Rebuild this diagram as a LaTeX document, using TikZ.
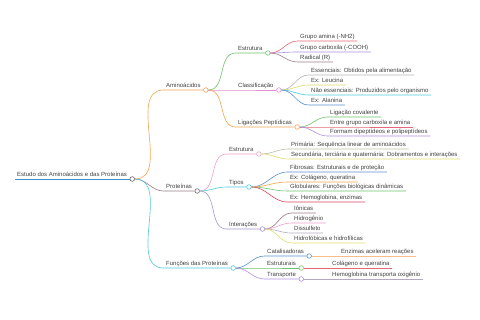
\documentclass[tikz,border=0pt]{standalone}
\usepackage{fontspec}
\setmainfont{Liberation Sans}
\usetikzlibrary{positioning}

\definecolor{cRoot}{HTML}{3F8FD2}
\definecolor{cOrange}{HTML}{F2A54F}
\definecolor{cMauve}{HTML}{9C7C86}
\definecolor{cCyan}{HTML}{4FC9D8}
\definecolor{cGreen}{HTML}{6CC26C}
\definecolor{cPink}{HTML}{E58FD0}
\definecolor{cRed}{HTML}{E5677A}
\definecolor{cPurple}{HTML}{B08FE6}
\definecolor{cGray}{HTML}{B4B4B4}
\definecolor{cLime}{HTML}{D6DA6A}
\definecolor{cBlue}{HTML}{5A93D0}
\definecolor{cRose}{HTML}{EBA2C8}
\definecolor{cLilac}{HTML}{A596CE}
\definecolor{cOlive}{HTML}{BDBDA2}
\definecolor{cYellow}{HTML}{DEDE6E}
\definecolor{cCrimson}{HTML}{DD4563}
\definecolor{cPeach}{HTML}{F7BD8A}
\definecolor{cSilver}{HTML}{B3AAC2}

\begin{document}
\begin{tikzpicture}[x=1pt, y=-1pt,
  font=\fontsize{6}{7}\selectfont,
  topic/.style={anchor=south west, inner xsep=2.5pt, inner ysep=0.5pt,
    text height=4.5pt, text depth=1.3pt, text=black!75},
  knob/.style={circle, draw, fill=white, inner sep=0pt,
    minimum size=4.6pt, line width=0.6pt},
  branch/.style={line width=0.6pt}]
\useasboundingbox (0,0) rectangle (480,320);

% root
\node[topic] (root) at (14.5,179) {Estudo dos Aminoácidos e das Proteínas};
\node[knob, draw=black!60, right=0pt of root.south east] (rootk) {};
\draw[branch, cRoot] (root.south west) -- (rootk.west);

% main branches
\node[topic] (amino) at (163.5,90) {Aminoácidos};
\node[knob, draw=cOrange, right=0pt of amino.south east] (aminok) {};
\draw[branch, cOrange] (rootk.east) to[out=0, in=180] (amino.south west) -- (aminok.west);

\node[topic] (prot) at (163.5,191) {Proteínas};
\node[knob, draw=black!60, right=0pt of prot.south east] (protk) {};
\draw[branch, cMauve] (rootk.east) to[out=0, in=180] (prot.south west) -- (protk.west);

\node[topic] (func) at (163.5,268) {Funções das Proteínas};
\node[knob, draw=cCyan, right=0pt of func.south east] (funck) {};
\draw[branch, cCyan] (rootk.east) to[out=0, in=180] (func.south west) -- (funck.west);

% Aminoacidos
\node[topic] (aestr) at (235.5,53) {Estrutura};
\node[knob, draw=cGreen, right=0pt of aestr.south east] (aestrk) {};
\draw[branch, cGreen] (aminok.east) to[out=0, in=180] (aestr.south west) -- (aestrk.west);

\node[topic] (aclass) at (235.5,90) {Classificação};
\node[knob, draw=cPink, right=0pt of aclass.south east] (aclassk) {};
\draw[branch, cPink] (aminok.east) to[out=0, in=180] (aclass.south west) -- (aclassk.west);

\node[topic] (aliga) at (235.5,127) {Ligações Peptídicas};
\node[knob, draw=cOrange, right=0pt of aliga.south east] (aligak) {};
\draw[branch, cOrange] (aminok.east) to[out=0, in=180] (aliga.south west) -- (aligak.west);

\node[topic] (amina) at (297.5,41) {Grupo amina (-NH2)};
\draw[branch, cRed] (aestrk.east) to[out=0, in=180] (amina.south west) -- (amina.south east);
\node[topic] (carbox) at (297.5,52) {Grupo carboxila (-COOH)};
\draw[branch, cPurple] (aestrk.east) to[out=0, in=180] (carbox.south west) -- (carbox.south east);
\node[topic] (radical) at (297.5,62) {Radical (R)};
\draw[branch, cMauve] (aestrk.east) to[out=0, in=180] (radical.south west) -- (radical.south east);

\node[topic] (essen) at (308.5,75) {Essenciais: Obtidos pela alimentação};
\draw[branch, cGray] (aclassk.east) to[out=0, in=180] (essen.south west) -- (essen.south east);
\node[topic] (leuc) at (308.5,85) {Ex: Leucina};
\draw[branch, cLime] (aclassk.east) to[out=0, in=180] (leuc.south west) -- (leuc.south east);
\node[topic] (naoes) at (308.5,95) {Não essenciais: Produzidos pelo organismo};
\draw[branch, cCyan] (aclassk.east) to[out=0, in=180] (naoes.south west) -- (naoes.south east);
\node[topic] (alan) at (308.5,105) {Ex: Alanina};
\draw[branch, cBlue] (aclassk.east) to[out=0, in=180] (alan.south west) -- (alan.south east);

\node[topic] (coval) at (327.5,117) {Ligação covalente};
\draw[branch, cGreen] (aligak.east) to[out=0, in=180] (coval.south west) -- (coval.south east);
\node[topic] (entre) at (327.5,127) {Entre grupo carboxila e amina};
\draw[branch, cRed] (aligak.east) to[out=0, in=180] (entre.south west) -- (entre.south east);
\node[topic] (formam) at (327.5,136) {Formam dipeptídeos e polipeptídeos};
\draw[branch, cPurple] (aligak.east) to[out=0, in=180] (formam.south west) -- (formam.south east);

% Proteinas
\node[topic] (pestr) at (226.5,154) {Estrutura};
\node[knob, draw=cRose, right=0pt of pestr.south east] (pestrk) {};
\draw[branch, cRose] (protk.east) to[out=0, in=180] (pestr.south west) -- (pestrk.west);

\node[topic] (tipos) at (226.5,187) {Tipos};
\node[knob, draw=cCyan, right=0pt of tipos.south east] (tiposk) {};
\draw[branch, cCyan] (protk.east) to[out=0, in=180] (tipos.south west) -- (tiposk.west);

\node[topic] (inter) at (226.5,229) {Interações};
\node[knob, draw=cLilac, right=0pt of inter.south east] (interk) {};
\draw[branch, cLilac] (protk.east) to[out=0, in=180] (inter.south west) -- (interk.west);

\node[topic] (prim) at (288.5,149) {Primária: Sequência linear de aminoácidos};
\draw[branch, cOlive] (pestrk.east) to[out=0, in=180] (prim.south west) -- (prim.south east);
\node[topic] (secund) at (288.5,159) {Secundária, terciária e quaternária: Dobramentos e interações};
\draw[branch, cYellow] (pestrk.east) to[out=0, in=180] (secund.south west) -- (secund.south east);

\node[topic] (fibr) at (287.5,172) {Fibrosas: Estruturais e de proteção};
\draw[branch, cBlue] (tiposk.east) to[out=0, in=180] (fibr.south west) -- (fibr.south east);
\node[topic] (colag) at (287.5,182) {Ex: Colágeno, queratina};
\draw[branch, cOrange] (tiposk.east) to[out=0, in=180] (colag.south west) -- (colag.south east);
\node[topic] (glob) at (287.5,191) {Globulares: Funções biológicas dinâmicas};
\draw[branch, cGreen] (tiposk.east) to[out=0, in=180] (glob.south west) -- (glob.south east);
\node[topic] (hemog) at (287.5,202) {Ex: Hemoglobina, enzimas};
\draw[branch, cCrimson] (tiposk.east) to[out=0, in=180] (hemog.south west) -- (hemog.south east);

\node[topic] (ionic) at (291.5,213) {Iônicas};
\draw[branch, cMauve] (interk.east) to[out=0, in=180] (ionic.south west) -- (ionic.south east);
\node[topic] (hidrog) at (291.5,223) {Hidrogênio};
\draw[branch, cRose] (interk.east) to[out=0, in=180] (hidrog.south west) -- (hidrog.south east);
\node[topic] (dissulf) at (291.5,233) {Dissulfeto};
\draw[branch, cSilver] (interk.east) to[out=0, in=180] (dissulf.south west) -- (dissulf.south east);
\node[topic] (hidrof) at (291.5,243) {Hidrofóbicas e hidrofílicas};
\draw[branch, cYellow] (interk.east) to[out=0, in=180] (hidrof.south west) -- (hidrof.south east);

% Funcoes das proteinas
\node[topic] (catal) at (264.5,256) {Catalisadoras};
\node[knob, draw=cBlue, right=0pt of catal.south east] (catalk) {};
\draw[branch, cBlue] (funck.east) to[out=0, in=180] (catal.south west) -- (catalk.west);

\node[topic] (estrut) at (264.5,268) {Estruturais};
\node[knob, draw=cGreen, right=0pt of estrut.south east] (estrutk) {};
\draw[branch, cGreen] (funck.east) to[out=0, in=180] (estrut.south west) -- (estrutk.west);

\node[topic] (transp) at (264.5,279) {Transporte};
\node[knob, draw=cPurple, right=0pt of transp.south east] (transpk) {};
\draw[branch, cPurple] (funck.east) to[out=0, in=180] (transp.south west) -- (transpk.west);

\node[topic] (enzim) at (338.5,256) {Enzimas aceleram reações};
\draw[branch, cPeach] (catalk.east) -- (enzim.south east);
\node[topic] (colqu) at (329.5,268) {Colágeno e queratina};
\draw[branch, cRed] (estrutk.east) -- (colqu.south east);
\node[topic] (hemtr) at (329.5,279) {Hemoglobina transporta oxigênio};
\draw[branch, cSilver] (transpk.east) -- (hemtr.south east);
\end{tikzpicture}
\end{document}
